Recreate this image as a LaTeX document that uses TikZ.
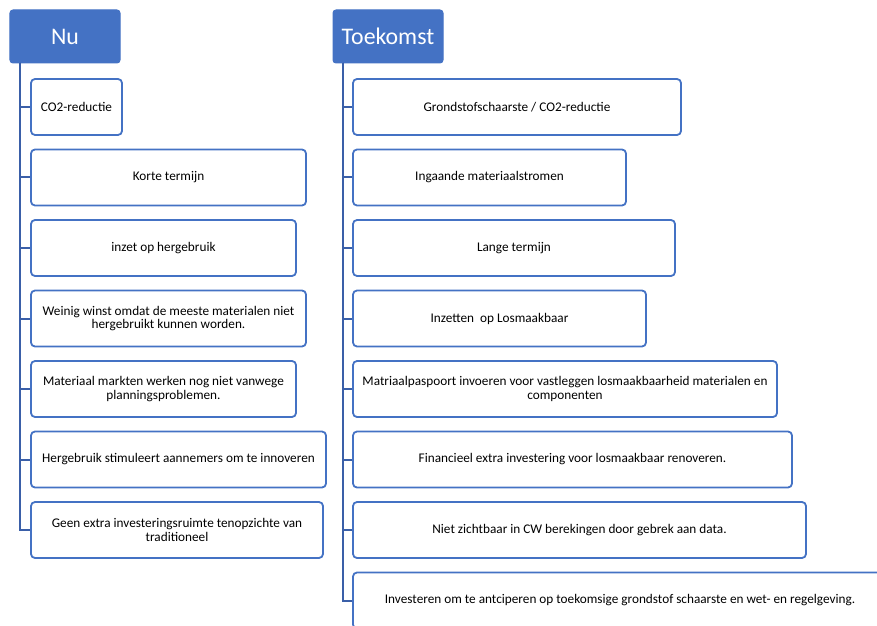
\documentclass[tikz,border=0pt]{standalone}
\usepackage{fontspec}
\setmainfont{Carlito}
\definecolor{accent}{HTML}{4472C4}
\definecolor{linkblue}{HTML}{3A5FA8}
\tikzset{
  header/.style={draw=accent, fill=accent, rounded corners=3bp, line width=1bp,
    text=white, font=\fontsize{23.9}{27}\selectfont, inner sep=0pt,
    minimum height=53bp},
  item/.style={draw=accent, fill=white, rounded corners=4bp, line width=1.8bp,
    text=black, font=\fontsize{13.3}{13.6}\selectfont, align=center,
    inner sep=0pt, minimum height=56bp},
  link/.style={draw=linkblue, line width=2bp}
}
\begin{document}
\begin{tikzpicture}[x=1bp,y=-1bp]
\useasboundingbox (0,0) rectangle (877,626);

% column headers
\node[header, minimum width=110bp] (nu) at (65,36.5) {Nu};
\node[header, minimum width=110bp] (tk) at (388,36.5) {Toekomst};

% trunk start points below each header
\coordinate (nuT) at (19.5,63);
\coordinate (tkT) at (343,63);

% items under "Nu"
\node[item, minimum width=91bp]  (a1) at (76.5,107) {CO2-reductie};
\node[item, minimum width=275bp] (a2) at (168.5,177.5) {Korte termijn};
\node[item, minimum width=265bp] (a3) at (163.5,248) {inzet op hergebruik};
\node[item, minimum width=275bp] (a4) at (168.5,318.5) {Weinig winst omdat de meeste materialen niet\\hergebruikt kunnen worden.};
\node[item, minimum width=265bp] (a5) at (163.5,389) {Materiaal markten werken nog niet vanwege\\planningsproblemen.};
\node[item, minimum width=295bp] (a6) at (178.5,459.5) {Hergebruik stimuleert aannemers om te innoveren};
\node[item, minimum width=292bp] (a7) at (177,530) {Geen extra investeringsruimte tenopzichte van\\traditioneel};

% items under "Toekomst"
\node[item, minimum width=328bp] (b1) at (517,107) {Grondstofschaarste / CO2-reductie};
\node[item, minimum width=273bp] (b2) at (489.5,177.5) {Ingaande materiaalstromen};
\node[item, minimum width=322bp] (b3) at (514,248) {Lange termijn};
\node[item, minimum width=293bp] (b4) at (499.5,318.5) {Inzetten\ \ op Losmaakbaar};
\node[item, minimum width=424bp] (b5) at (565,389) {Matriaalpaspoort invoeren voor vastleggen losmaakbaarheid materialen en\\componenten};
\node[item, minimum width=439bp] (b6) at (572.5,459.5) {Financieel extra investering voor losmaakbaar renoveren.};
\node[item, minimum width=453bp] (b7) at (579.5,530) {Niet zichtbaar in CW berekingen door gebrek aan data.};
\node[item, minimum width=534bp] (b8) at (620,600.5) {Investeren om te antciperen op toekomsige grondstof schaarste en wet- en regelgeving.};

% connectors
\foreach \n in {a1,a2,a3,a4,a5,a6,a7}
  \draw[link] (nuT) |- (\n.west);
\foreach \n in {b1,b2,b3,b4,b5,b6,b7,b8}
  \draw[link] (tkT) |- (\n.west);
\end{tikzpicture}
\end{document}
